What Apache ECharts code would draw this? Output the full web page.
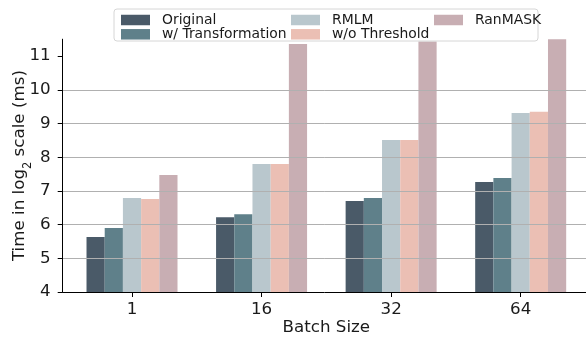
<!DOCTYPE html>
<html>
<head>
<meta charset="utf-8">
<script src="https://cdn.jsdelivr.net/npm/echarts@6/dist/echarts.min.js"></script>
<style>
  html, body { margin: 0; padding: 0; background: #ffffff; }
  #chart { width: 586px; height: 340px; }
</style>
</head>
<body>
<div id="chart"></div>
<script>
// Batch sizes on the x axis
const batchSizes = ["1", "16", "32", "64"];

// Latency per method, log2(ms)
const original       = [5.63, 6.22, 6.70, 7.26];
const transformation = [5.90, 6.31, 6.79, 7.38];
const rmlm           = [6.79, 7.80, 8.51, 9.31];
const noThreshold    = [6.76, 7.80, 8.51, 9.35];
const ranmask        = [7.47, 11.36, 11.43, 12.30];

// Y axis tick values
const yTicks = [4, 5, 6, 7, 8, 9, 10, 11];

const seriesNames  = ["Original", "w/ Transformation", "RMLM", "w/o Threshold", "RanMASK"];
const seriesValues = [original, transformation, rmlm, noThreshold, ranmask];
const seriesColors = ["#4a5a68", "#5f808a", "#b9c7cd", "#ebbfb4", "#c8aeb3"];

const FONT = "DejaVu Sans";
const catIndex = batchSizes.map((_, i) => i);

const chart = echarts.init(document.getElementById("chart"), null, { renderer: "canvas" });

const series = seriesNames.map((name, s) => ({
  name: name,
  type: "bar",
  barWidth: 18.2,
  barGap: "0%",
  clip: true,
  z: 2,
  itemStyle: { color: seriesColors[s] },
  data: seriesValues[s].map((v, i) => [catIndex[i], v])
}));

const legendCommon = {
  orient: "vertical",
  itemWidth: 29,
  itemHeight: 10.5,
  itemGap: 0.3,
  icon: "rect",
  selectedMode: false,
  z: 12,
  textStyle: {
    fontFamily: FONT, fontSize: 13.9, color: "#1a1a1a",
    lineHeight: 14, padding: [0, 0, 0, 7]
  }
};

chart.setOption({
  animation: false,
  backgroundColor: "#ffffff",
  grid: {
    left: 62.7, top: 39.2, width: 527.3, height: 252.8,
    containLabel: false, outerBoundsMode: "none"
  },
  legend: [
    Object.assign({}, legendCommon, { left: 116, top: 8, data: [seriesNames[0], seriesNames[1]] }),
    Object.assign({}, legendCommon, { left: 286, top: 8, data: [seriesNames[2], seriesNames[3]] }),
    Object.assign({}, legendCommon, { left: 429, top: 8, data: [seriesNames[4]] })
  ],
  graphic: [{
    type: "rect",
    z: 10,
    shape: { x: 114, y: 9, width: 424, height: 32, r: 3 },
    style: { fill: "rgba(255,255,255,0.85)", stroke: "#d6d6d6", lineWidth: 1 }
  }],
  xAxis: {
    type: "value",
    min: -0.535,
    max: 3.535,
    z: 6,
    name: "Batch Size",
    nameLocation: "middle",
    nameGap: 27,
    nameMoveOverlap: false,
    nameTextStyle: { fontFamily: FONT, fontSize: 16.7, color: "#1a1a1a", verticalAlign: "top" },
    axisLine: { show: true, onZero: false, lineStyle: { color: "#000000", width: 1 } },
    axisTick: { show: true, length: 5, customValues: catIndex, lineStyle: { color: "#000000", width: 1 } },
    axisLabel: {
      customValues: catIndex,
      margin: 9,
      fontFamily: FONT, fontSize: 16.7, color: "#1a1a1a",
      formatter: v => batchSizes[Math.round(v)]
    },
    splitLine: { show: false }
  },
  yAxis: {
    type: "value",
    min: 4,
    max: 11.5,
    interval: 1,
    z: 5,
    name: "Time in log{sub|2} scale (ms)",
    nameLocation: "middle",
    nameGap: 35,
    nameMoveOverlap: false,
    nameRotate: 90,
    nameTextStyle: {
      fontFamily: FONT, fontSize: 16.7, color: "#1a1a1a",
      rich: { sub: { fontFamily: FONT, fontSize: 11.5, color: "#1a1a1a", verticalAlign: "bottom", padding: [0, 0, -6, 0] } }
    },
    axisLine: { show: true, onZero: false, lineStyle: { color: "#000000", width: 1 } },
    axisTick: { show: true, length: 5, customValues: yTicks, lineStyle: { color: "#000000", width: 1 } },
    axisLabel: {
      customValues: yTicks,
      margin: 12,
      fontFamily: FONT, fontSize: 16.7, color: "#1a1a1a"
    },
    splitLine: { show: true, showMinLine: false, showMaxLine: false, lineStyle: { color: "#b0b0b0", width: 1 } }
  },
  series: series
});
</script>
</body>
</html>
